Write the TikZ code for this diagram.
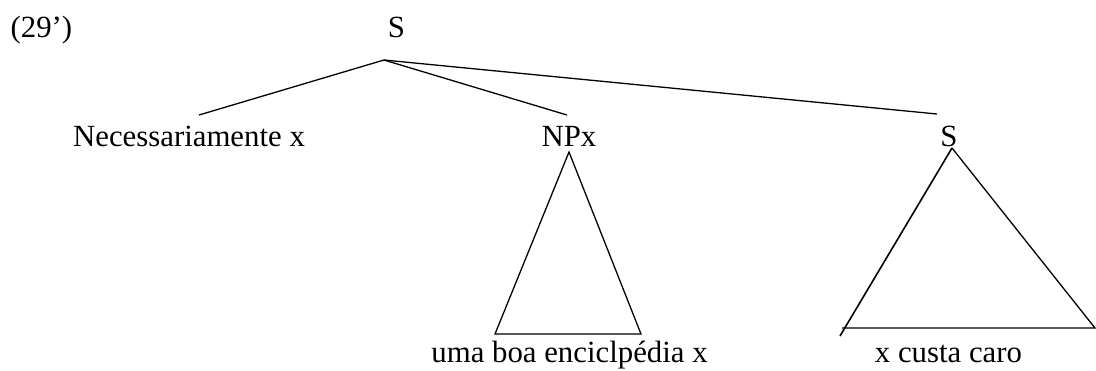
\documentclass[tikz,border=0pt]{standalone}
\usepackage{fontspec}
\setmainfont{Liberation Serif}
\usetikzlibrary{positioning}

\begin{document}
\begin{tikzpicture}[x=0.5bp,y=-0.5bp,line width=0.65bp,
  lab/.style={font=\fontsize{15.4bp}{18bp}\selectfont,inner sep=0pt,anchor=base},
  tri/.style={line join=miter}]
\useasboundingbox (0,0) rectangle (1096,370);
\node[lab,anchor=base west] (ex) at (10,37) {(29’)};
\node[lab] (S) at (396.5,37) {S};
\node[lab] (nec) at (189,146) {Necessariamente x};
\node[lab] (NPx) at (569,146) {NPx};
\node[lab] (Sr) at (949,146) {S};
\node[lab] (np-yield) at (569.5,362) {uma boa enciclpédia x};
\node[lab] (s-yield) at (948.5,362) {x custa caro};
% branches
\coordinate (S-foot) at (384,60);
\coordinate (nec-top) at (199,115);
\coordinate (NPx-top) at (567,115);
\coordinate (Sr-top) at (937,114);
\draw (S-foot) -- (nec-top);
\draw (S-foot) -- (NPx-top);
\draw (S-foot) -- (Sr-top);
% triangles
\coordinate (NPx-apex) at (569,152);
\coordinate (NPx-bl) at (495,334);
\coordinate (NPx-br) at (641,334);
\draw[tri] (NPx-apex) -- (NPx-br) -- (NPx-bl) -- cycle;
\coordinate (Sr-apex) at (952,148);
\coordinate (Sr-bl) at (842,328);
\coordinate (Sr-br) at (1095,328);
\coordinate (Sr-tail) at (840,336);
\draw[tri] (Sr-apex) -- (Sr-br) -- (Sr-bl);
\draw[line width=0.8bp] (Sr-apex) -- (Sr-tail);
\end{tikzpicture}
\end{document}
